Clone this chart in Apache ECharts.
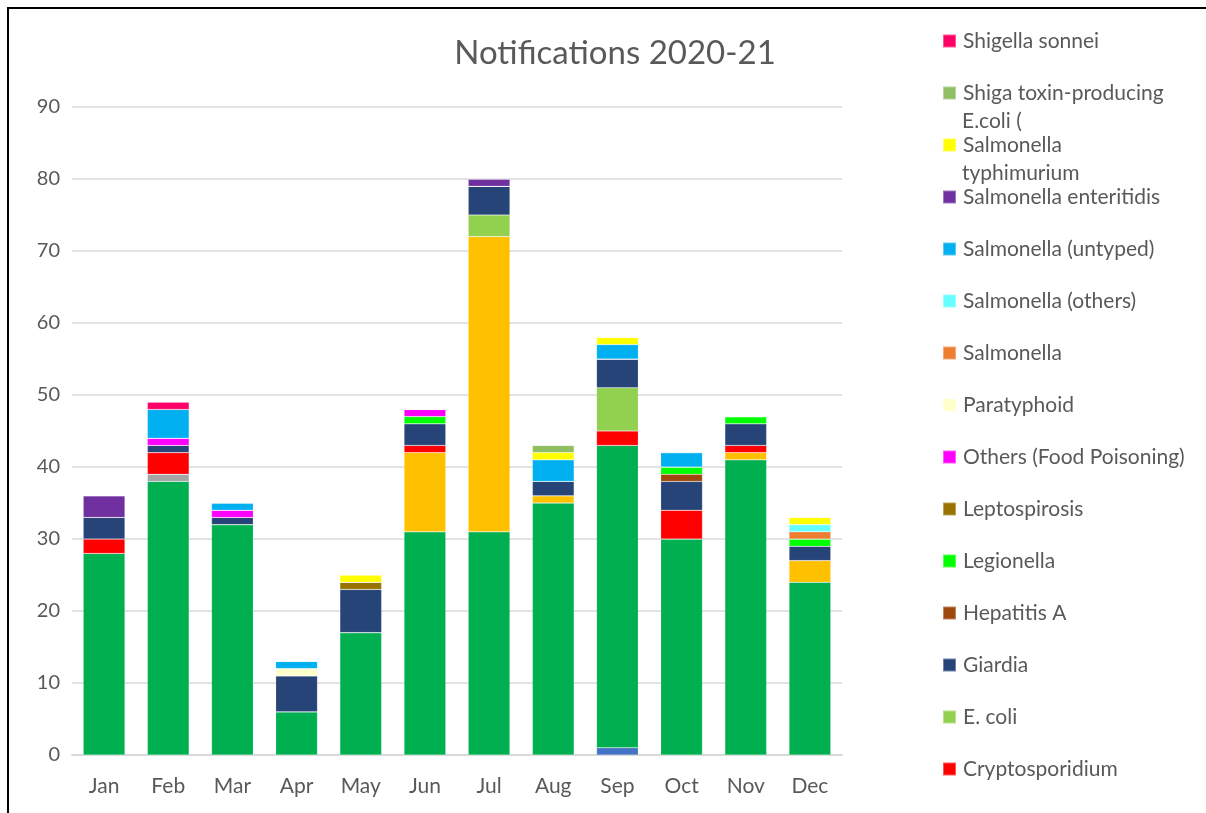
<!DOCTYPE html>
<html>
<head>
<meta charset="utf-8">
<title>Notifications 2020-21</title>
<script src="https://cdn.jsdelivr.net/npm/echarts@6/dist/echarts.min.js"></script>
<style>
  html, body { margin: 0; padding: 0; background: #fff; }
  #chart { width: 1206px; height: 813px; }
</style>
</head>
<body>
<div id="chart"></div>
<script>
var months = ['Jan', 'Feb', 'Mar', 'Apr', 'May', 'Jun', 'Jul', 'Aug', 'Sep', 'Oct', 'Nov', 'Dec'];
var yTicks = [0, 10, 20, 30, 40, 50, 60, 70, 80, 90];

// stack order, bottom first (first four are below the cut-off part of the legend)
var amoebiasis      = [0, 0, 0, 0, 0, 0, 0, 0, 1, 0, 0, 0];
var campylobacter   = [28, 38, 32, 6, 17, 31, 31, 35, 42, 30, 41, 24];
var cholera         = [0, 1, 0, 0, 0, 0, 0, 0, 0, 0, 0, 0];
var clostridium     = [0, 0, 0, 0, 0, 11, 41, 1, 0, 0, 1, 3];
var cryptosporidium = [2, 3, 0, 0, 0, 1, 0, 0, 2, 4, 1, 0];
var ecoli           = [0, 0, 0, 0, 0, 0, 3, 0, 6, 0, 0, 0];
var giardia         = [3, 1, 1, 5, 6, 3, 4, 2, 4, 4, 3, 2];
var hepatitisA      = [0, 0, 0, 0, 0, 0, 0, 0, 0, 1, 0, 0];
var legionella      = [0, 0, 0, 0, 0, 1, 0, 0, 0, 1, 1, 1];
var leptospirosis   = [0, 0, 0, 0, 1, 0, 0, 0, 0, 0, 0, 0];
var othersFood      = [0, 1, 1, 0, 0, 1, 0, 0, 0, 0, 0, 0];
var paratyphoid     = [0, 0, 0, 1, 0, 0, 0, 0, 0, 0, 0, 0];
var salmonella      = [0, 0, 0, 0, 0, 0, 0, 0, 0, 0, 0, 1];
var salmOthers      = [0, 0, 0, 0, 0, 0, 0, 0, 0, 0, 0, 1];
var salmUntyped     = [0, 4, 1, 1, 0, 0, 0, 3, 2, 2, 0, 0];
var salmEnteritidis = [3, 0, 0, 0, 0, 0, 1, 0, 0, 0, 0, 0];
var salmTyphimurium = [0, 0, 0, 0, 1, 0, 0, 1, 1, 0, 0, 1];
var stec            = [0, 0, 0, 0, 0, 0, 0, 1, 0, 0, 0, 0];
var shigella        = [0, 1, 0, 0, 0, 0, 0, 0, 0, 0, 0, 0];

var seriesList = [
  { name: 'Amoebiasis', data: amoebiasis, color: '#4472C4' },
  { name: 'Campylobacter', data: campylobacter, color: '#00B050' },
  { name: 'Cholera', data: cholera, color: '#A5A5A5' },
  { name: 'Clostridium perfringens', data: clostridium, color: '#FFC000' },
  { name: 'Cryptosporidium', data: cryptosporidium, color: '#FF0000' },
  { name: 'E. coli', data: ecoli, color: '#92D050' },
  { name: 'Giardia', data: giardia, color: '#264478' },
  { name: 'Hepatitis A', data: hepatitisA, color: '#9E480E' },
  { name: 'Legionella', data: legionella, color: '#00FF00' },
  { name: 'Leptospirosis', data: leptospirosis, color: '#997300' },
  { name: 'Others (Food Poisoning)', data: othersFood, color: '#FF00FF' },
  { name: 'Paratyphoid', data: paratyphoid, color: '#FFFFCC' },
  { name: 'Salmonella', data: salmonella, color: '#ED7D31' },
  { name: 'Salmonella (others)', data: salmOthers, color: '#66FFFF' },
  { name: 'Salmonella (untyped)', data: salmUntyped, color: '#00B0F0' },
  { name: 'Salmonella enteritidis', data: salmEnteritidis, color: '#7030A0' },
  { name: 'Salmonella typhimurium', data: salmTyphimurium, color: '#FFFF00' },
  { name: 'Shiga toxin-producing E.coli (STEC)', data: stec, color: '#8FBF62' },
  { name: 'Shigella sonnei', data: shigella, color: '#FF0066' }
];

// legend shows the list top-down in reverse order, cut off after Cryptosporidium
var legendNames = [
  'Shigella sonnei',
  'Shiga toxin-producing E.coli (STEC)',
  'Salmonella typhimurium',
  'Salmonella enteritidis',
  'Salmonella (untyped)',
  'Salmonella (others)',
  'Salmonella',
  'Paratyphoid',
  'Others (Food Poisoning)',
  'Leptospirosis',
  'Legionella',
  'Hepatitis A',
  'Giardia',
  'E. coli',
  'Cryptosporidium'
];
// wrapped legend labels: first line in the legend, second line underneath
var legendLines = {
  'Shiga toxin-producing E.coli (STEC)': ['Shiga toxin-producing', 'E.coli ('],
  'Salmonella typhimurium': ['Salmonella', 'typhimurium']
};

var textColor = '#595959';
var font = 'Lato';
var legendSize = 21;
var lineH = 26;
var rowGap = 52;
var firstRow = 41;

var legends = legendNames.map(function (name, i) {
  var center = firstRow + i * rowGap;
  return {
    data: [name],
    left: 942,
    top: center - lineH / 2,
    padding: 0,
    itemWidth: 13,
    itemHeight: 13,
    itemGap: 0,
    icon: 'rect',
    selectedMode: false,
    formatter: function (n) { return legendLines[n] ? legendLines[n][0] : n; },
    textStyle: { color: textColor, fontFamily: font, fontSize: legendSize, lineHeight: lineH, padding: [0, 0, 0, 2] }
  };
});

var secondLines = [];
legendNames.forEach(function (name, i) {
  if (!legendLines[name]) return;
  secondLines.push({
    type: 'text',
    left: 962,
    top: firstRow + i * rowGap + 28 - lineH / 2,
    silent: true,
    style: {
      text: legendLines[name][1],
      fill: textColor,
      font: legendSize + 'px ' + font,
      lineHeight: lineH
    }
  });
});

var chart = echarts.init(document.getElementById('chart'), null, { renderer: 'canvas' });
chart.setOption({
  backgroundColor: '#fff',
  animation: false,
  title: {
    text: 'Notifications 2020-21',
    left: 610,
    top: 32,
    textAlign: 'center',
    textStyle: { color: textColor, fontFamily: font, fontSize: 33, fontWeight: 'normal' }
  },
  legend: legends,
  grid: { left: 72, right: 364, top: 107, bottom: 58 },
  xAxis: {
    type: 'category',
    data: months,
    axisLine: { lineStyle: { color: '#D9D9D9', width: 2 } },
    axisTick: { show: false },
    axisLabel: { color: textColor, fontFamily: font, fontSize: 21, margin: 21 }
  },
  yAxis: {
    type: 'value',
    min: yTicks[0],
    max: yTicks[yTicks.length - 1],
    interval: 10,
    axisLine: { show: false },
    axisTick: { show: false },
    splitLine: { lineStyle: { color: '#D9D9D9', width: 1.5 } },
    axisLabel: { color: textColor, fontFamily: font, fontSize: 20, margin: 12 }
  },
  graphic: [{
    type: 'polyline',
    shape: { points: [[8, 813], [8, 8], [1206, 8]] },
    style: { stroke: '#000', lineWidth: 2, fill: null },
    silent: true
  }].concat(secondLines),
  series: seriesList.map(function (s) {
    return {
      name: s.name,
      type: 'bar',
      stack: 'total',
      barCategoryGap: '35%',
      data: s.data,
      itemStyle: { color: s.color, borderColor: 'rgba(255,255,255,0.35)', borderWidth: 0.5 }
    };
  })
});
</script>
</body>
</html>
